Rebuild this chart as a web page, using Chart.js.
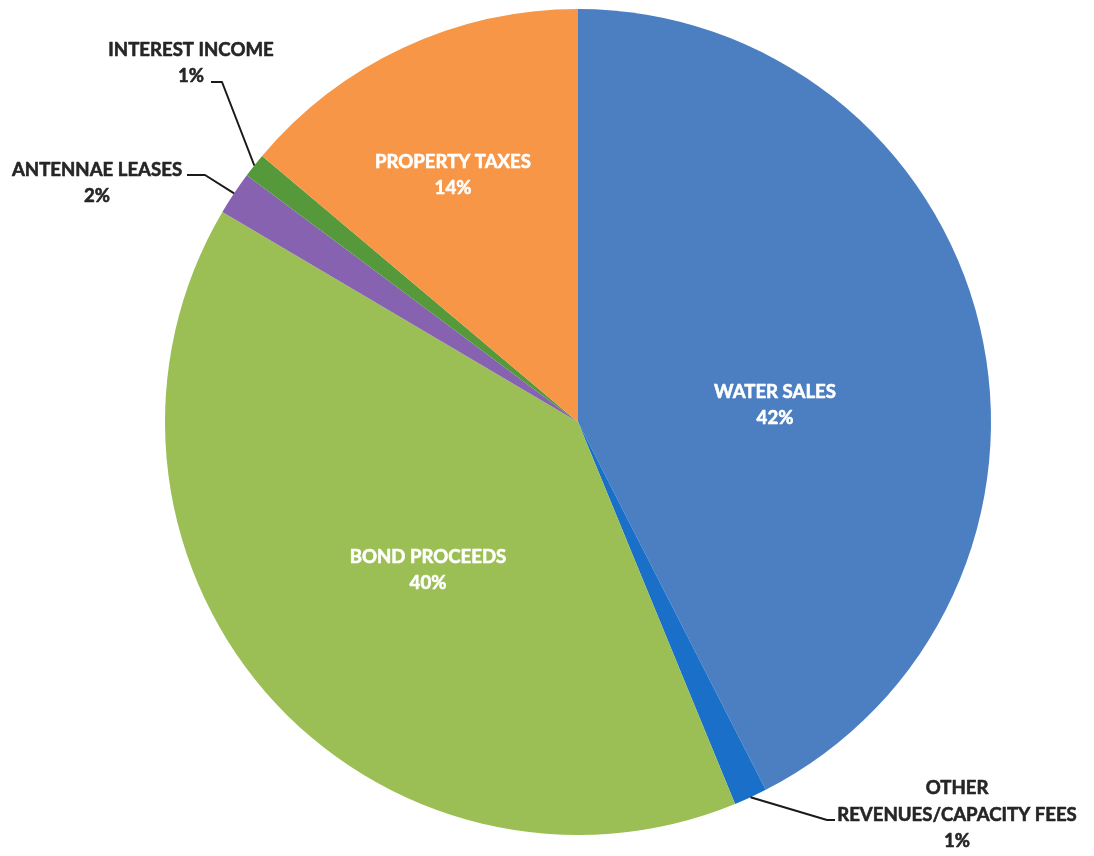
<!DOCTYPE html>
<html>
<head>
<meta charset="utf-8">
<script src="https://cdn.jsdelivr.net/npm/chart.js@4.4.1/dist/chart.umd.min.js"></script>
<style>
  html, body { margin: 0; padding: 0; background: #fff; }
  #wrap { width: 1094px; height: 856px; position: relative; }
</style>
</head>
<body>
<div id="wrap"><canvas id="revenue-pie"></canvas></div>
<script>
// slices, clockwise from 12 o'clock
const categories = ['WATER SALES', 'OTHER\nREVENUES/CAPACITY FEES', 'BOND PROCEEDS', 'ANTENNAE LEASES', 'INTEREST INCOME', 'PROPERTY TAXES'];
const shares = [42.49, 1.3, 39.7, 1.7, 0.95, 13.86];
const pctLabels = ['42%', '1%', '40%', '2%', '1%', '14%'];
const sliceColors = ['#4b7fc1', '#1a70c8', '#9bbf55', '#8662b0', '#55993a', '#f79646'];

const FONT = 'bold 18.6px Lato, "Open Sans", sans-serif';
const LINE_H = 26.5;

// where each label goes (text center of first line); outside ones get a leader
const placements = [
  {x: 775, y: 391.5, color: '#fff'},
  {x: 957, y: 788, color: '#262626', leader: [[827, 820], [835, 820]]},
  {x: 428, y: 556.5, color: '#fff'},
  {x: 97, y: 169.5, color: '#262626', leader: [[205, 175], [187, 175]]},
  {x: 191, y: 49.5, color: '#262626', leader: [[222, 82], [211, 82]]},
  {x: 453, y: 161.5, color: '#fff'},
];

const sliceLabels = {
  id: 'sliceLabels',
  afterDatasetsDraw(chart) {
    const ctx = chart.ctx;
    const arcs = chart.getDatasetMeta(0).data;
    ctx.save();
    ctx.font = FONT;
    ctx.textAlign = 'center';
    ctx.textBaseline = 'middle';
    ctx.lineJoin = 'round';
    arcs.forEach((arc, i) => {
      const p = placements[i];
      const lines = categories[i].split('\n').concat(pctLabels[i]);
      if (p.leader) {
        const {x, y, startAngle, endAngle, outerRadius} = arc.getProps(['x', 'y', 'startAngle', 'endAngle', 'outerRadius'], true);
        const mid = (startAngle + endAngle) / 2;
        ctx.beginPath();
        ctx.moveTo(x + Math.cos(mid) * outerRadius, y + Math.sin(mid) * outerRadius);
        p.leader.forEach(pt => ctx.lineTo(pt[0], pt[1]));
        ctx.strokeStyle = '#1a1a1a';
        ctx.lineWidth = 2;
        ctx.stroke();
      }
      // a thin stroke in the text colour to get Calibri-like weight
      ctx.fillStyle = p.color;
      ctx.strokeStyle = p.color;
      ctx.lineWidth = 0.6;
      lines.forEach((t, k) => {
        ctx.fillText(t, p.x, p.y + k * LINE_H);
        ctx.strokeText(t, p.x, p.y + k * LINE_H);
      });
    });
    ctx.restore();
  }
};

new Chart(document.getElementById('revenue-pie'), {
  type: 'pie',
  data: {
    labels: categories,
    datasets: [{
      data: shares,
      backgroundColor: sliceColors,
      borderWidth: 0
    }]
  },
  options: {
    responsive: true,
    maintainAspectRatio: false,
    animation: false,
    layout: {padding: {left: 165, right: 103, top: 9, bottom: 21}},
    plugins: {
      legend: {display: false},
      tooltip: {enabled: false}
    }
  },
  plugins: [sliceLabels]
});
</script>
</body>
</html>
